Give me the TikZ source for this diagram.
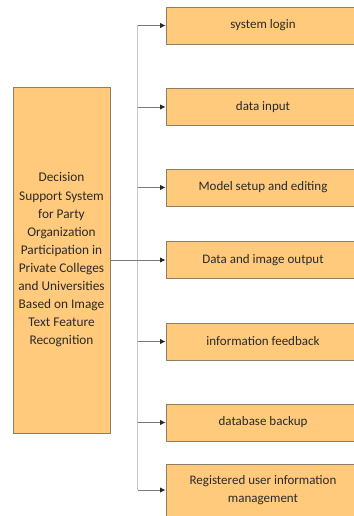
\documentclass[tikz,border=0pt]{standalone}
\usepackage{fontspec}
\setmainfont{Carlito}
\usetikzlibrary{arrows.meta}
\definecolor{boxfill}{HTML}{FFCA7C}
\definecolor{boxedge}{HTML}{8E7E66}
\definecolor{trunkgray}{HTML}{C6C6C6}
\definecolor{branchgray}{HTML}{7A7A7A}
\definecolor{txt}{HTML}{2A2A2A}
\begin{document}
\begin{tikzpicture}[x=1pt,y=-1pt,
  card/.style={draw=boxedge,line width=0.9pt,fill=boxfill,inner sep=0pt,
    text=txt,align=center,font=\fontsize{13}{17.5}\selectfont},
  item/.style={card,minimum width=194pt,minimum height=37pt},
  trunkline/.style={draw=trunkgray,line width=1.4pt},
  branch/.style={draw=branchgray,line width=0.9pt,
    -{Latex[length=5.5pt,width=5.5pt,color=black!85]}}]
\useasboundingbox (0,0) rectangle (353,516);
% main system box
\node[card,minimum width=97pt,minimum height=346pt,
  font=\fontsize{13.3}{18.1}\selectfont] (sys) at (61.5,260)
  {Decision\\Support System\\for Party\\Organization\\Participation in\\Private Colleges\\and Universities\\Based on Image\\Text Feature\\Recognition};
% function modules
\node[item] (m1) at (263,25.5) {system login};
\node[item] (m2) at (263,107) {data input};
\node[item] (m3) at (263,187.5) {Model setup and editing};
\node[item] (m4) at (263,260) {Data and image output};
\node[item] (m5) at (263,341.5) {information feedback};
\node[item] (m6) at (263,422.5) {database backup};
\node[item,minimum height=52pt] (m7) at (263,490) {Registered user information\\management};
% vertical trunk
\coordinate (trunk) at (137.5,0);
\foreach \i in {1,...,7} {\coordinate (t\i) at (trunk |- m\i.west);}
\path[trunkline] (t1) -- (t7);
% branches into each module
\foreach \i in {1,2,3,5,6,7} {\path[branch] (t\i) -- (m\i.west);}
\path[branch] (sys.east |- m4.west) -- (m4.west);
\end{tikzpicture}
\end{document}
